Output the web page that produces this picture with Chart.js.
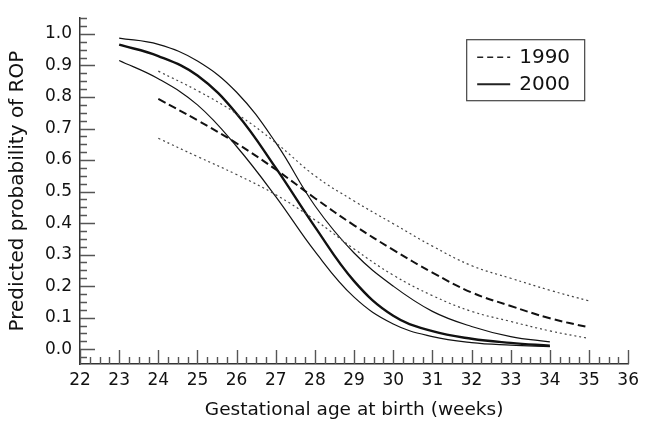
<!DOCTYPE html>
<html>
<head>
<meta charset="utf-8">
<script src="https://cdn.jsdelivr.net/npm/chart.js@4.4.1/dist/chart.umd.min.js"></script>
<style>
  html, body { margin: 0; padding: 0; background: #fff; }
  #wrap { width: 645px; height: 421px; }
</style>
</head>
<body>
<div id="wrap"><canvas id="ropChart" width="645" height="421"></canvas></div>
<script>
// weeks of gestation
const weeks1990 = [24, 25, 26, 27, 28, 29, 30, 31, 32, 33, 34, 35];
const weeks2000 = [23, 24, 25, 26, 27, 28, 29, 30, 31, 32, 33, 34];

// 1990 model: estimate and 95% limits
const est1990 = [0.794, 0.726, 0.653, 0.570, 0.479, 0.393, 0.315, 0.243, 0.180, 0.137, 0.098, 0.069];
const upper1990 = [0.882, 0.820, 0.747, 0.655, 0.550, 0.470, 0.398, 0.327, 0.265, 0.225, 0.187, 0.153];
const lower1990 = [0.669, 0.611, 0.554, 0.490, 0.410, 0.318, 0.235, 0.170, 0.120, 0.088, 0.058, 0.034];

// 2000 model: estimate and 95% limits
const est2000 = [0.966, 0.930, 0.868, 0.747, 0.575, 0.388, 0.216, 0.106, 0.057, 0.033, 0.020, 0.011];
const upper2000 = [0.987, 0.967, 0.914, 0.815, 0.655, 0.455, 0.305, 0.200, 0.120, 0.072, 0.040, 0.023];
const lower2000 = [0.916, 0.858, 0.775, 0.643, 0.484, 0.310, 0.165, 0.080, 0.040, 0.021, 0.013, 0.008];

const xTicks = [22, 23, 24, 25, 26, 27, 28, 29, 30, 31, 32, 33, 34, 35, 36];
const yTicks = [0.0, 0.1, 0.2, 0.3, 0.4, 0.5, 0.6, 0.7, 0.8, 0.9, 1.0];

const legendItems = ['1990', '2000'];

const FONT = '"DejaVu Sans", "Noto Sans", sans-serif';

function points(xs, ys) {
    return xs.map((x, i) => ({ x: x, y: ys[i] }));
}

function curve(data, width, dash, color) {
    return {
        data: data,
        borderColor: color,
        borderWidth: width,
        borderDash: dash,
        pointRadius: 0,
        fill: false,
        tension: 0.4
    };
}

// inward major/minor tick marks, like the original figure
const innerTicks = {
    id: 'innerTicks',
    afterDraw(chart) {
        const ctx = chart.ctx;
        const xs = chart.scales.x;
        const ys = chart.scales.y;
        const left = xs.left;
        const bottom = ys.bottom;
        ctx.save();
        ctx.strokeStyle = '#555';
        ctx.lineWidth = 1.4;
        ctx.beginPath();
        for (let k = 0; k <= 56; k++) {
            const v = 22 + k * 0.25;
            const px = Math.round(xs.getPixelForValue(v)) + 0.5;
            const len = k % 4 === 0 ? 14 : 7;
            ctx.moveTo(px, bottom);
            ctx.lineTo(px, bottom - len);
        }
        for (let k = -1; k <= 42; k++) {
            const v = k * 0.025;
            const py = Math.round(ys.getPixelForValue(v)) + 0.5;
            const len = k % 4 === 0 ? 15 : 7;
            ctx.moveTo(left, py);
            ctx.lineTo(left + len, py);
        }
        ctx.stroke();
        ctx.restore();
    }
};

// boxed legend in the upper right of the plot
const boxLegend = {
    id: 'boxLegend',
    afterDraw(chart) {
        const ctx = chart.ctx;
        const area = chart.chartArea;
        const bx = area.right - 162;
        const by = area.top + 21;
        ctx.save();
        ctx.strokeStyle = '#444';
        ctx.lineWidth = 1.2;
        ctx.strokeRect(bx + 0.5, by + 0.5, 118, 61);
        ctx.font = '20px ' + FONT;
        ctx.fillStyle = '#111';
        ctx.textBaseline = 'middle';
        legendItems.forEach((label, i) => {
            const ly = by + 18 + i * 27;
            ctx.beginPath();
            ctx.strokeStyle = '#222';
            ctx.lineWidth = i === 0 ? 1.5 : 2;
            ctx.setLineDash(i === 0 ? [6, 4] : []);
            ctx.moveTo(bx + 11, ly);
            ctx.lineTo(bx + 44, ly);
            ctx.stroke();
            ctx.setLineDash([]);
            ctx.fillText(label, bx + 53, ly + 1);
        });
        ctx.restore();
    }
};

const ctx = document.getElementById('ropChart').getContext('2d');

new Chart(ctx, {
    type: 'line',
    data: {
        datasets: [
            curve(points(weeks1990, upper1990), 1.2, [2, 3], '#444'),
            curve(points(weeks1990, lower1990), 1.2, [2, 3], '#444'),
            curve(points(weeks1990, est1990), 2, [8, 4], '#111'),
            curve(points(weeks2000, upper2000), 1.2, [], '#111'),
            curve(points(weeks2000, lower2000), 1.2, [], '#111'),
            curve(points(weeks2000, est2000), 2.4, [], '#111')
        ]
    },
    options: {
        responsive: false,
        animation: false,
        layout: {
            padding: { top: 13, right: 13, bottom: 0, left: 0 }
        },
        plugins: {
            legend: { display: false },
            tooltip: { enabled: false }
        },
        scales: {
            x: {
                type: 'linear',
                min: 22,
                max: 36,
                afterFit: (scale) => { scale.height = 57; },
                afterBuildTicks: (scale) => { scale.ticks = xTicks.map(v => ({ value: v })); },
                grid: { display: false, drawTicks: false },
                border: { display: true, color: '#333', width: 1.5 },
                ticks: {
                    padding: 6,
                    color: '#111',
                    font: { family: FONT, size: 17 },
                    maxRotation: 0,
                    autoSkip: false
                },
                title: {
                    display: true,
                    text: 'Gestational age at birth (weeks)',
                    color: '#111',
                    font: { family: FONT, size: 18.5 },
                    padding: { top: 0, bottom: 0 }
                }
            },
            y: {
                type: 'linear',
                min: -0.047,
                max: 1.05,
                afterFit: (scale) => { scale.width = 80; },
                afterBuildTicks: (scale) => { scale.ticks = yTicks.map(v => ({ value: v })); },
                grid: { display: false, drawTicks: false },
                border: { display: true, color: '#333', width: 1.5 },
                ticks: {
                    padding: 8,
                    color: '#111',
                    font: { family: FONT, size: 17 },
                    callback: (value) => value.toFixed(1)
                },
                title: {
                    display: true,
                    text: 'Predicted probability of ROP',
                    color: '#111',
                    font: { family: FONT, size: 20 },
                    padding: { top: 6, bottom: 0 }
                }
            }
        }
    },
    plugins: [innerTicks, boxLegend]
});
</script>
</body>
</html>
